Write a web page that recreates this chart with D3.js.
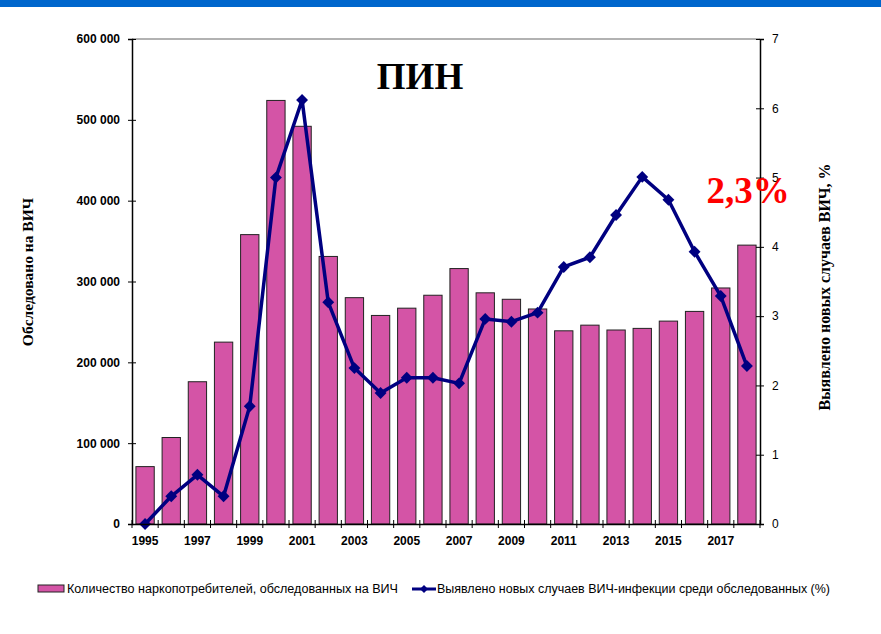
<!DOCTYPE html>
<html>
<head>
<meta charset="utf-8">
<script src="https://cdnjs.cloudflare.com/ajax/libs/d3/7.8.5/d3.min.js"></script>
<style>
  body { margin: 0; background: #fff; }
  .tick text { font-family: Arial, "Liberation Sans", sans-serif; font-size: 12px; fill: #000; }
</style>
</head>
<body>
<svg id="chart"></svg>
<script>
const w = 881, h = 634;
const margins = {top: 39, right: 121, bottom: 110, left: 132};

// data
const years = d3.range(1995, 2019);
const tested = [71000, 107000, 176000, 225000, 358000, 524000, 492000, 331000, 280000, 258000,
  267000, 283000, 316000, 286000, 278000, 266000, 239000, 246000, 240000, 242000,
  251000, 263000, 292000, 345000];
const hivRate = [0, 0.40, 0.71, 0.40, 1.70, 5.0, 6.12, 3.2, 2.25, 1.89,
  2.11, 2.11, 2.03, 2.96, 2.92, 3.05, 3.71, 3.85, 4.46, 5.01,
  4.68, 3.93, 3.29, 2.28];
const leftTicks = [0, 100000, 200000, 300000, 400000, 500000, 600000];
const rightTicks = [0, 1, 2, 3, 4, 5, 6, 7];
const xLabels = years.filter((y, i) => i % 2 === 0);

const svg = d3.select('#chart').attr('width', w).attr('height', h);

// top banner
svg.append('rect').attr('x', 0).attr('y', 0).attr('width', w).attr('height', 7).attr('fill', '#0066cc');

const xScale = d3.scaleBand().domain(years).range([margins.left, w - margins.right]).paddingInner(0.3).paddingOuter(0.15);
const xBand = d3.scaleBand().domain(years).range([margins.left, w - margins.right]);
const yLeft = d3.scaleLinear().domain([0, 600000]).range([h - margins.bottom, margins.top]);
const yRight = d3.scaleLinear().domain([0, 7]).range([h - margins.bottom, margins.top]);

// top border
svg.append('line')
  .attr('x1', margins.left).attr('x2', w - margins.right)
  .attr('y1', margins.top).attr('y2', margins.top)
  .attr('stroke', '#999').attr('stroke-width', 1.5);

// bars
svg.selectAll('rect.bar')
  .data(tested)
  .join('rect')
  .attr('class', 'bar')
  .attr('x', (d, i) => xScale(years[i]))
  .attr('y', d => yLeft(d))
  .attr('width', xScale.bandwidth())
  .attr('height', d => yLeft(0) - yLeft(d))
  .attr('fill', '#d454a6')
  .attr('stroke', '#222')
  .attr('stroke-width', 1);

// line
const line = d3.line()
  .x((d, i) => xBand(years[i]) + xBand.bandwidth() / 2)
  .y(d => yRight(d));

svg.append('path')
  .datum(hivRate)
  .attr('d', line)
  .attr('fill', 'none')
  .attr('stroke', '#000080')
  .attr('stroke-width', 3.5)
  .attr('stroke-linejoin', 'round');

const diamond = d3.symbol().type(d3.symbolDiamond2).size(90);
svg.selectAll('path.mark')
  .data(hivRate)
  .join('path')
  .attr('class', 'mark')
  .attr('d', diamond)
  .attr('transform', (d, i) => `translate(${xBand(years[i]) + xBand.bandwidth() / 2}, ${yRight(d)})`)
  .attr('fill', '#000080');

// axes
const leftAxis = svg.append('g')
  .attr('transform', `translate(${margins.left}, 0)`)
  .call(d3.axisLeft(yLeft).tickValues(leftTicks).tickSize(4)
    .tickFormat(d => d3.format(',')(d).replace(/,/g, ' ')));
leftAxis.selectAll('.tick line').attr('x2', 4).attr('x1', -4);
leftAxis.selectAll('.tick text').attr('x', -12).style('font-weight', 'bold');

const rightAxis = svg.append('g')
  .attr('transform', `translate(${w - margins.right}, 0)`)
  .call(d3.axisRight(yRight).tickValues(rightTicks).tickSize(4).tickFormat(d3.format('d')));
rightAxis.selectAll('.tick line').attr('x1', -4).attr('x2', 4);
rightAxis.selectAll('.tick text').attr('x', 12);

const xAxis = svg.append('g')
  .attr('transform', `translate(0, ${h - margins.bottom})`)
  .call(d3.axisBottom(xBand).tickValues(xLabels).tickSize(0).tickPadding(12));
xAxis.selectAll('.tick text').style('font-weight', 'bold');
// ticks between categories
svg.selectAll('line.xtick')
  .data(years.concat([2019]))
  .join('line')
  .attr('class', 'xtick')
  .attr('x1', d => d === 2019 ? w - margins.right : xBand(d))
  .attr('x2', d => d === 2019 ? w - margins.right : xBand(d))
  .attr('y1', h - margins.bottom - 4)
  .attr('y2', h - margins.bottom + 4)
  .attr('stroke', '#000');
svg.selectAll('.domain').attr('stroke', '#000').attr('stroke-width', 1.5);

// axis labels
svg.append('text')
  .attr('transform', `translate(33, 272) rotate(-90)`)
  .attr('text-anchor', 'middle')
  .style('font-family', '"Liberation Serif", "Times New Roman", serif')
  .style('font-weight', 'bold')
  .style('font-size', '15.5px')
  .text('Обследовано на ВИЧ');

svg.append('text')
  .attr('transform', `translate(830, 287) rotate(-90)`)
  .attr('text-anchor', 'middle')
  .style('font-family', '"Liberation Serif", "Times New Roman", serif')
  .style('font-weight', 'bold')
  .style('font-size', '16px')
  .text('Выявлено новых случаев ВИЧ, %');

// title and annotation
svg.append('text')
  .attr('x', 420).attr('y', 89)
  .attr('text-anchor', 'middle')
  .style('font-family', '"Liberation Serif", "Times New Roman", serif')
  .style('font-weight', 'bold')
  .style('font-size', '37px')
  .text('ПИН');

svg.append('text')
  .attr('x', 748).attr('y', 203)
  .attr('text-anchor', 'middle')
  .attr('fill', '#ff0000')
  .style('font-family', '"Liberation Serif", "Times New Roman", serif')
  .style('font-weight', 'bold')
  .style('font-size', '37px')
  .text('2,3%');

// legend
const legend = svg.append('g').attr('transform', 'translate(0, 589)');
legend.append('rect').attr('x', 38).attr('y', -4).attr('width', 26).attr('height', 7)
  .attr('fill', '#d454a6').attr('stroke', '#222');
legend.append('text').attr('x', 67).attr('y', 4)
  .attr('textLength', 331).attr('lengthAdjust', 'spacingAndGlyphs')
  .style('font-family', 'Arial, "Liberation Sans", sans-serif')
  .style('font-size', '12px')
  .text('Количество наркопотребителей, обследованных на ВИЧ');
legend.append('line').attr('x1', 412).attr('x2', 436).attr('y1', 0).attr('y2', 0)
  .attr('stroke', '#000080').attr('stroke-width', 3);
legend.append('path').attr('d', d3.symbol().type(d3.symbolDiamond2).size(40))
  .attr('transform', 'translate(424, 0)').attr('fill', '#000080');
legend.append('text').attr('x', 437).attr('y', 4)
  .attr('textLength', 393).attr('lengthAdjust', 'spacingAndGlyphs')
  .style('font-family', 'Arial, "Liberation Sans", sans-serif')
  .style('font-size', '12px')
  .text('Выявлено новых случаев ВИЧ-инфекции среди обследованных (%)');
</script>
</body>
</html>
